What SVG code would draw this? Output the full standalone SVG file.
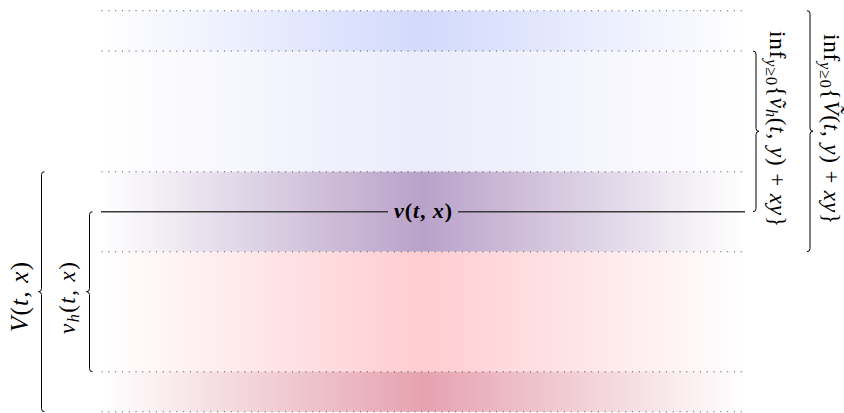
<svg xmlns="http://www.w3.org/2000/svg" width="844" height="413" viewBox="0 0 844 413">
<defs>
<linearGradient id="g1" x1="0" y1="0" x2="1" y2="0"><stop offset="0" stop-color="#fff"/><stop offset="0.5" stop-color="#d2d9fc"/><stop offset="1" stop-color="#fff"/></linearGradient>
<linearGradient id="g2" x1="0" y1="0" x2="1" y2="0"><stop offset="0" stop-color="#fff"/><stop offset="0.5" stop-color="#ebebfc"/><stop offset="1" stop-color="#fff"/></linearGradient>
<linearGradient id="g3" x1="0" y1="0" x2="1" y2="0"><stop offset="0" stop-color="#fff"/><stop offset="0.5" stop-color="#b9a2c9"/><stop offset="1" stop-color="#fff"/></linearGradient>
<linearGradient id="g4" x1="0" y1="0" x2="1" y2="0"><stop offset="0" stop-color="#fff"/><stop offset="0.5" stop-color="#ffccd1"/><stop offset="1" stop-color="#fff"/></linearGradient>
<linearGradient id="g5" x1="0" y1="0" x2="1" y2="0"><stop offset="0" stop-color="#fff"/><stop offset="0.5" stop-color="#e6a2b0"/><stop offset="1" stop-color="#fff"/></linearGradient>
</defs>
<style>
.dot{stroke:#555;stroke-width:1.1;stroke-dasharray:1.1 5.7;fill:none}
.brace{fill:none;stroke:#000;stroke-width:1}
.rule{stroke:#3a3a3a;stroke-width:1.6;fill:none}
.m{font-family:"Liberation Serif","DejaVu Serif",serif;font-size:23px;fill:#000}
.i{font-style:italic}
.s{font-size:16px}
.b{font-weight:bold}
</style>
<g id="bands">
<rect x="101" y="10.7" width="644" height="40.3" fill="url(#g1)"/>
<rect x="101" y="51" width="644" height="120.7" fill="url(#g2)"/>
<rect x="101" y="171.7" width="644" height="80" fill="url(#g3)"/>
<rect x="101" y="251.7" width="644" height="120" fill="url(#g4)"/>
<rect x="101" y="371.7" width="644" height="40" fill="url(#g5)"/>
</g>
<g id="levels">
<line class="dot" x1="101.5" y1="10.7" x2="745" y2="10.7"/>
<line class="dot" x1="101.5" y1="51" x2="745" y2="51"/>
<line class="dot" x1="101.5" y1="171.7" x2="745" y2="171.7"/>
<line class="dot" x1="101.5" y1="251.7" x2="745" y2="251.7"/>
<line class="dot" x1="101.5" y1="371.7" x2="745" y2="371.7"/>
<line class="dot" x1="101.5" y1="411.7" x2="745" y2="411.7"/>
</g>
<g id="connectors">
<line class="rule" x1="101" y1="211.7" x2="388" y2="211.7"/>
<line class="rule" x1="458" y1="211.7" x2="745" y2="211.7"/>
<path class="brace" d="M753,51 Q756,51 756,54 L756,128.35 Q756,131.35 759,131.35 Q756,131.35 756,134.35 L756,208.7 Q756,211.7 753,211.7"/>
<path class="brace" d="M807,10.7 Q810,10.7 810,13.7 L810,128.2 Q810,131.2 813,131.2 Q810,131.2 810,134.2 L810,248.7 Q810,251.7 807,251.7"/>
<path class="brace" d="M92.5,211.7 Q89.5,211.7 89.5,214.7 L89.5,288.7 Q89.5,291.7 86.5,291.7 Q89.5,291.7 89.5,294.7 L89.5,368.7 Q89.5,371.7 92.5,371.7"/>
<path class="brace" d="M44.5,171.7 Q41.5,171.7 41.5,174.7 L41.5,288.7 Q41.5,291.7 38.5,291.7 Q41.5,291.7 41.5,294.7 L41.5,408.7 Q41.5,411.7 44.5,411.7"/>
</g>
<g id="label-v">
<text class="m b" x="423" y="218" text-anchor="middle" style="font-size:22px" textLength="58"><tspan class="i">v</tspan>(<tspan class="i">t</tspan>, <tspan class="i">x</tspan>)</text>
</g>
<g id="label-V">
<text class="m" transform="translate(28,297) rotate(-90)" text-anchor="middle" style="font-size:25px" textLength="70"><tspan class="i">V</tspan>(<tspan class="i">t</tspan>, <tspan class="i">x</tspan>)</text>
</g>
<g id="label-vh">
<text class="m" transform="translate(75,298) rotate(-90)" text-anchor="middle" textLength="72"><tspan class="i">v</tspan><tspan class="i s" dy="4">h</tspan><tspan dy="-4">(</tspan><tspan class="i">t</tspan>, <tspan class="i">x</tspan>)</text>
</g>
<g id="label-inf-vh">
<text class="m" transform="translate(770,129) rotate(90)" text-anchor="middle" textLength="196">inf<tspan class="s i" dy="4">y</tspan><tspan class="s">≥0</tspan><tspan dy="-4">{</tspan><tspan class="i">ṽ</tspan><tspan class="i s" dy="4">h</tspan><tspan dy="-4">(</tspan><tspan class="i">t</tspan>, <tspan class="i">y</tspan>) + <tspan class="i">xy</tspan>}</text>
</g>
<g id="label-inf-V">
<text class="m" transform="translate(824,129) rotate(90)" text-anchor="middle" textLength="190">inf<tspan class="s i" dy="4">y</tspan><tspan class="s">≥0</tspan><tspan dy="-4">{</tspan><tspan class="i">Ṽ</tspan>(<tspan class="i">t</tspan>, <tspan class="i">y</tspan>) + <tspan class="i">xy</tspan>}</text>
</g>
</svg>
